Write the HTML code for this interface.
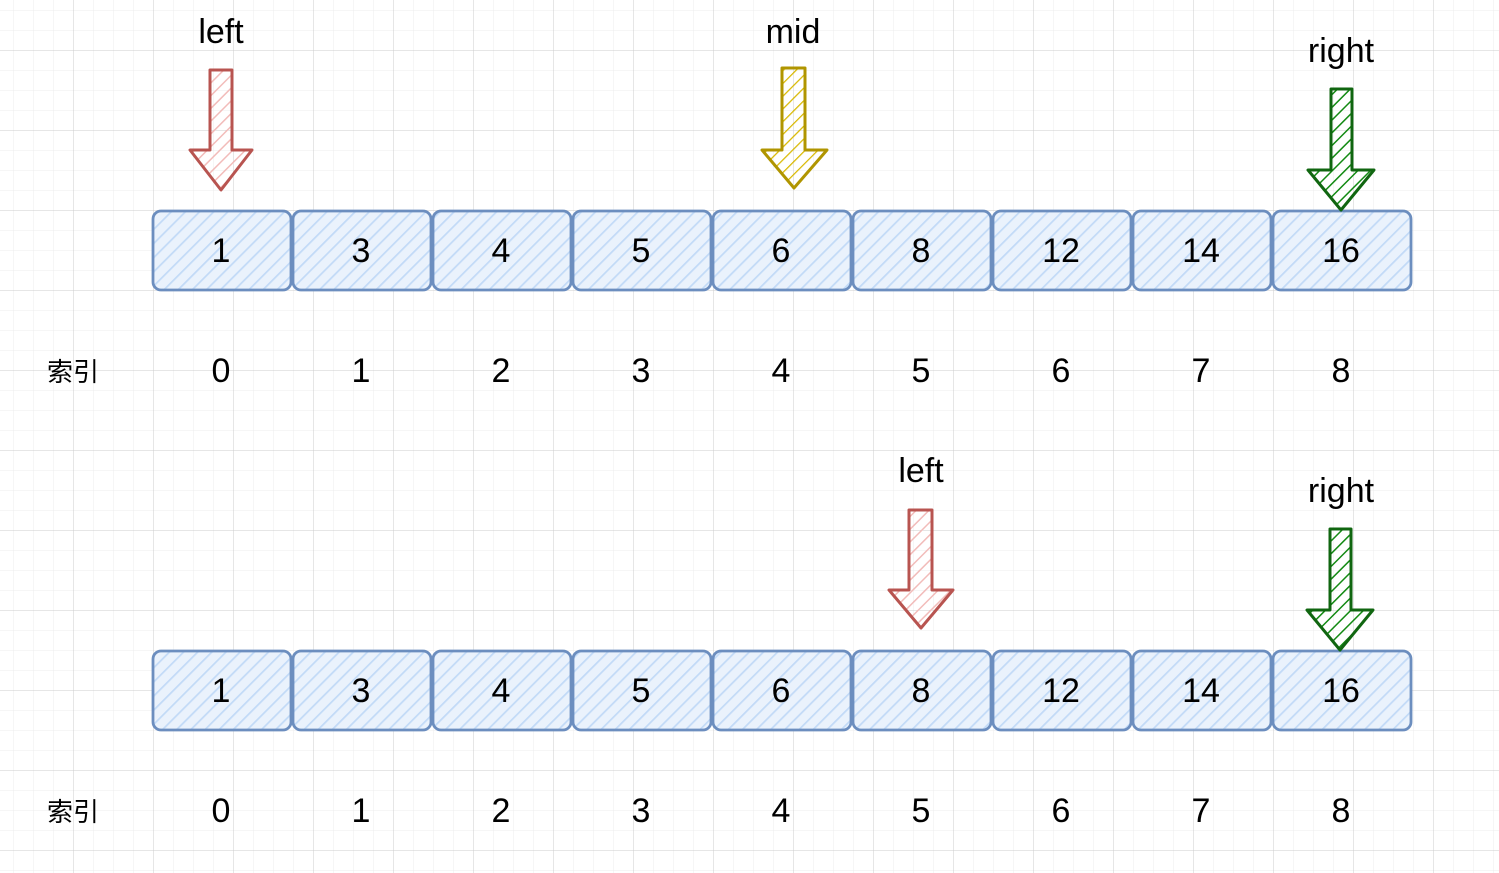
<!DOCTYPE html>
<html><head><meta charset="utf-8"><style>
html,body{margin:0;padding:0;background:#fff;}
svg{display:block;}
text{font-family:"Liberation Sans","Noto Sans CJK SC",sans-serif;fill:#000;}
</style></head><body>
<svg width="1499" height="873" viewBox="0 0 1499 873" xmlns="http://www.w3.org/2000/svg">
<defs>
<pattern id="minor" width="20" height="20" patternUnits="userSpaceOnUse" x="13" y="10">
<path d="M0 0H20M0 0V20" stroke="#ececec" stroke-width="1" fill="none"/></pattern>
<pattern id="major" width="80" height="80" patternUnits="userSpaceOnUse" x="73" y="50">
<path d="M0 0H80M0 0V80" stroke="#cccccc" stroke-width="1" fill="none"/></pattern>
<pattern id="hb" width="10" height="10" patternUnits="userSpaceOnUse" patternTransform="rotate(45)">
<rect width="10" height="10" fill="#eaf2fc"/><path d="M0 0V10" stroke="#c2daf7" stroke-width="3.5"/></pattern>
<pattern id="hr" width="9" height="9" patternUnits="userSpaceOnUse" patternTransform="rotate(45)">
<path d="M0 0V9" stroke="#f2bcba" stroke-width="3"/></pattern>
<pattern id="hy" width="9" height="9" patternUnits="userSpaceOnUse" patternTransform="rotate(45)">
<path d="M0 0V9" stroke="#d8b800" stroke-width="2.5"/></pattern>
<pattern id="hg" width="9" height="9" patternUnits="userSpaceOnUse" patternTransform="rotate(45)">
<path d="M0 0V9" stroke="#138a13" stroke-width="3"/></pattern>
</defs>
<rect width="1499" height="873" fill="url(#minor)"/>
<rect width="1499" height="873" fill="url(#major)"/>

<g stroke="#6c8ebf" stroke-width="2.8" fill="url(#hb)">
<rect x="153" y="211" width="138" height="79" rx="8"/>
<rect x="293" y="211" width="138" height="79" rx="8"/>
<rect x="433" y="211" width="138" height="79" rx="8"/>
<rect x="573" y="211" width="138" height="79" rx="8"/>
<rect x="713" y="211" width="138" height="79" rx="8"/>
<rect x="853" y="211" width="138" height="79" rx="8"/>
<rect x="993" y="211" width="138" height="79" rx="8"/>
<rect x="1133" y="211" width="138" height="79" rx="8"/>
<rect x="1273" y="211" width="138" height="79" rx="8"/>
<rect x="153" y="651" width="138" height="79" rx="8"/>
<rect x="293" y="651" width="138" height="79" rx="8"/>
<rect x="433" y="651" width="138" height="79" rx="8"/>
<rect x="573" y="651" width="138" height="79" rx="8"/>
<rect x="713" y="651" width="138" height="79" rx="8"/>
<rect x="853" y="651" width="138" height="79" rx="8"/>
<rect x="993" y="651" width="138" height="79" rx="8"/>
<rect x="1133" y="651" width="138" height="79" rx="8"/>
<rect x="1273" y="651" width="138" height="79" rx="8"/>
</g>

<g font-size="34" text-anchor="middle">
<text x="221" y="262">1</text><text x="361" y="262">3</text><text x="501" y="262">4</text>
<text x="641" y="262">5</text><text x="781" y="262">6</text><text x="921" y="262">8</text>
<text x="1061" y="262">12</text><text x="1201" y="262">14</text><text x="1341" y="262">16</text>
<text x="221" y="702">1</text><text x="361" y="702">3</text><text x="501" y="702">4</text>
<text x="641" y="702">5</text><text x="781" y="702">6</text><text x="921" y="702">8</text>
<text x="1061" y="702">12</text><text x="1201" y="702">14</text><text x="1341" y="702">16</text>
<text x="221" y="382">0</text><text x="361" y="382">1</text><text x="501" y="382">2</text>
<text x="641" y="382">3</text><text x="781" y="382">4</text><text x="921" y="382">5</text>
<text x="1061" y="382">6</text><text x="1201" y="382">7</text><text x="1341" y="382">8</text>
<text x="221" y="822">0</text><text x="361" y="822">1</text><text x="501" y="822">2</text>
<text x="641" y="822">3</text><text x="781" y="822">4</text><text x="921" y="822">5</text>
<text x="1061" y="822">6</text><text x="1201" y="822">7</text><text x="1341" y="822">8</text>
<text x="221" y="43">left</text>
<text x="793" y="43">mid</text>
<text x="1341" y="62">right</text>
<text x="921" y="482">left</text>
<text x="1341" y="502">right</text>
</g>
<g font-size="26" text-anchor="middle">
<text x="73" y="381">索引</text>
<text x="73" y="821">索引</text>
</g>

<g stroke-width="3" stroke-linejoin="round">
<path d="M210 70H232V150H252L221 190L190 150H210Z" fill="url(#hr)" stroke="#b85450"/>
<path d="M782 68H805V150H827L794 188L762 150H782Z" fill="url(#hy)" stroke="#b09500"/>
<path d="M1331 89H1352V170H1374L1341 210L1308 170H1331Z" fill="url(#hg)" stroke="#106610"/>
<path d="M909 510H932V590H953L921 628L889 590H909Z" fill="url(#hr)" stroke="#b85450"/>
<path d="M1330 529H1351V610H1373L1340 650L1307 610H1330Z" fill="url(#hg)" stroke="#106610"/>
</g>
</svg>
</body></html>
